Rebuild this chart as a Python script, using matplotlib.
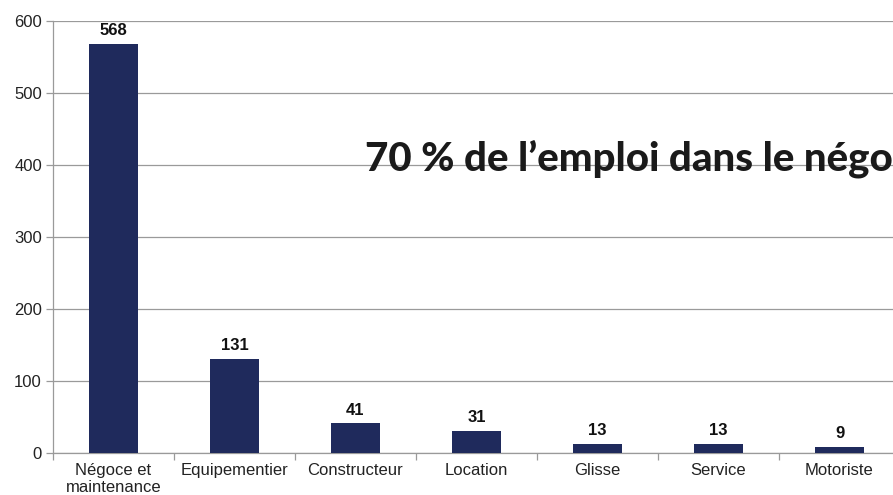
import matplotlib
matplotlib.use("Agg")
import matplotlib.pyplot as plt
import numpy as np

categories = ["Négoce et\nmaintenance", "Equipementier", "Constructeur", "Location", "Glisse", "Service", "Motoriste"]
values = [568, 131, 41, 31, 13, 13, 9]
yticks = [0, 100, 200, 300, 400, 500, 600]
title = "70 % de l\u2019emploi dans le négoce"

fig = plt.figure(figsize=(8.93, 4.95), dpi=100)
ax = fig.add_axes([53/893, 42/495, 847/893, 432/495])

x = np.arange(len(categories))
ax.bar(x, values, width=0.4, color="#1F2A5C", zorder=3)
for xi, v in zip(x, values):
    ax.text(xi, v + 8, str(v), ha="center", va="bottom", fontsize=12, fontweight="bold",
            family="Liberation Sans", color="#111111")

ax.set_xlim(-0.5, len(categories) - 0.5)
ax.set_ylim(0, 600)
ax.set_yticks(yticks)
ax.set_yticklabels([str(t) for t in yticks], fontsize=12, family="Liberation Sans", color="#222222")
ax.yaxis.grid(True, color="#9a9a9a", linewidth=0.9, zorder=0)
ax.set_xticks(x)
ax.set_xticklabels(categories, fontsize=12, family="Liberation Sans", linespacing=1.15, color="#222222")
ax.set_xticks(np.arange(len(categories) + 1) - 0.5, minor=True)
ax.tick_params(axis="x", which="major", length=0, pad=7)
ax.tick_params(axis="x", which="minor", length=5, color="#9a9a9a", width=0.9)
ax.tick_params(axis="y", length=5, color="#9a9a9a", width=0.9, pad=3)
for s in ["top", "right"]:
    ax.spines[s].set_visible(False)
for s in ["left", "bottom"]:
    ax.spines[s].set_color("#9a9a9a")
    ax.spines[s].set_linewidth(0.9)

fig.text(365/893, 1 - 159/495, title, fontsize=29, fontweight="black", family="Lato",
         color="#1a1a1a", va="center", ha="left")

fig.savefig("out.png", dpi=100)
